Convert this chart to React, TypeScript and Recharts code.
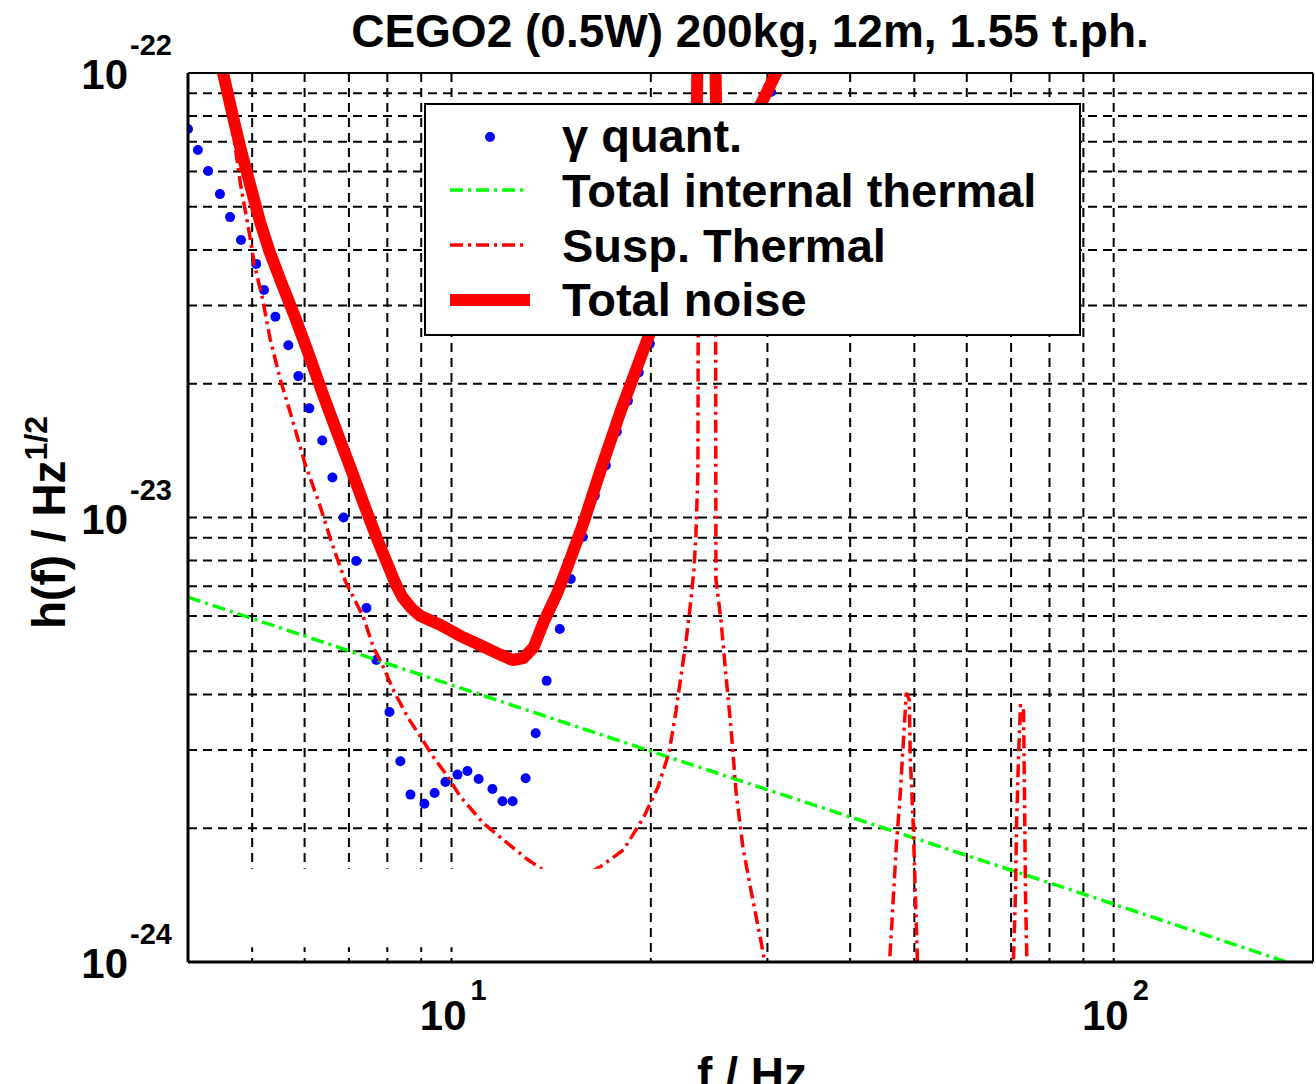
import {
  ComposedChart,
  Line,
  Scatter,
  XAxis,
  YAxis,
  CartesianGrid,
  ReferenceLine,
  ReferenceArea,
} from "recharts";

const FONT = '"Liberation Sans", Arial, Helvetica, sans-serif';

// values: [frequency in Hz, h(f) in 1/sqrt(Hz)]
const gammaQuant: [number, number][] = [
  [4.0, 7.48e-23], [4.14, 6.71e-23], [4.29, 6.02e-23], [4.47, 5.34e-23],
  [4.63, 4.74e-23], [4.81, 4.21e-23], [5.07, 3.72e-23], [5.21, 3.25e-23],
  [5.42, 2.83e-23], [5.67, 2.44e-23], [5.87, 2.08e-23], [6.1, 1.76e-23],
  [6.38, 1.49e-23], [6.61, 1.23e-23], [6.87, 1.0e-23], [7.18, 7.98e-24],
  [7.44, 6.26e-24], [7.7, 4.78e-24], [8.06, 3.65e-24], [8.37, 2.83e-24],
  [8.67, 2.38e-24], [9.1, 2.27e-24], [9.43, 2.4e-24], [9.79, 2.54e-24],
  [10.21, 2.64e-24], [10.57, 2.69e-24], [10.99, 2.58e-24], [11.53, 2.45e-24],
  [11.94, 2.3e-24], [12.37, 2.3e-24], [12.94, 2.59e-24], [13.4, 3.27e-24],
  [13.92, 4.29e-24], [14.57, 5.61e-24], [15.14, 7.27e-24], [15.79, 9.04e-24],
  [16.46, 1.12e-23], [17.1, 1.31e-23], [17.77, 1.56e-23], [18.47, 1.83e-23],
  [19.18, 2.12e-23], [19.93, 2.46e-23], [20.71, 2.8e-23], [21.52, 3.17e-23],
  [22.36, 3.59e-23], [23.23, 4.02e-23], [24.14, 4.5e-23], [25.08, 5.05e-23],
  [26.06, 5.66e-23], [27.08, 6.34e-23], [28.14, 7.14e-23], [29.24, 8.0e-23],
  [30.38, 9.06e-23],
];

const internalThermal: [number, number][] = [
  [4, 6.62e-24], [10, 4.2e-24], [20, 2.98e-24], [50, 1.9e-24], [100, 1.35e-24], [200, 9.55e-25],
];

const suspThermal: [number, number][] = [
  [4.54, 1.0e-22], [4.66, 7.68e-23], [4.8, 5.63e-23], [4.95, 4.37e-23], [5.04, 3.7e-23],
  [5.18, 3.12e-23], [5.32, 2.53e-23], [5.51, 2.05e-23], [5.75, 1.66e-23], [6.01, 1.32e-23],
  [6.32, 1.07e-23], [6.61, 8.67e-24], [6.91, 7.2e-24], [7.36, 5.97e-24], [7.62, 5.11e-24],
  [7.89, 4.61e-24], [8.17, 4.09e-24], [8.58, 3.56e-24], [8.98, 3.21e-24], [9.39, 2.89e-24],
  [9.86, 2.62e-24], [10.32, 2.35e-24], [11.18, 2.05e-24], [12.15, 1.85e-24], [13.03, 1.7e-24],
  [14.88, 1.49e-24], [16.8, 1.64e-24], [18.2, 1.79e-24], [19.52, 2.12e-24], [20.49, 2.47e-24],
  [21.3, 2.95e-24], [21.83, 3.67e-24], [22.2, 4.38e-24], [22.59, 5.22e-24], [22.99, 6.52e-24],
  [23.23, 7.62e-24], [23.39, 9.09e-24], [23.56, 1.27e-23], [23.64, 3.18e-22], [25.0, 3.18e-22],
  [25.08, 7.27e-24], [25.53, 5.85e-24], [25.98, 4.38e-24], [26.43, 3.36e-24], [26.9, 2.41e-24],
  [27.55, 1.81e-24], [28.33, 1.45e-24], [29.34, 1.11e-24], [29.96, 9.35e-25], [37.45, 4.89e-25],
  [45.5, 8.21e-25], [46.15, 1.16e-24], [46.96, 1.82e-24], [47.62, 2.4e-24], [48.12, 3.11e-24],
  [48.62, 4.03e-24], [49.13, 3.89e-24], [49.31, 2.86e-24], [49.82, 2.02e-24], [50.17, 1.43e-24],
  [50.7, 8.65e-25], [59.9, 4.89e-25], [70.35, 8.65e-25], [71.08, 1.43e-24], [71.33, 2.02e-24],
  [71.82, 2.86e-24], [72.32, 3.77e-24], [73.08, 3.77e-24], [73.33, 2.4e-24], [73.59, 1.43e-24],
  [74.1, 8.65e-25], [95.9, 4.89e-25], [200, 3.0e-25],
];

const totalNoise: [number, number][] = [
  [4.4, 1.19e-22], [4.66, 8.17e-23], [4.8, 6.78e-23], [4.97, 5.57e-23], [5.14, 4.62e-23],
  [5.32, 3.94e-23], [5.55, 3.34e-23], [5.81, 2.81e-23], [6.1, 2.31e-23], [6.38, 1.91e-23],
  [6.7, 1.57e-23], [7.03, 1.3e-23], [7.36, 1.08e-23], [7.7, 9.04e-24], [8.06, 7.66e-24],
  [8.25, 7.05e-24], [8.43, 6.62e-24], [8.7, 6.25e-24], [8.98, 6.0e-24], [9.63, 5.73e-24],
  [10.32, 5.41e-24], [11.06, 5.16e-24], [11.86, 4.91e-24], [12.37, 4.78e-24], [12.85, 4.83e-24],
  [13.31, 5.11e-24], [13.78, 5.82e-24], [14.47, 6.8e-24], [15.14, 8.11e-24], [15.84, 9.77e-24],
  [16.8, 1.28e-23], [18.02, 1.74e-23], [19.79, 2.53e-23], [22.2, 3.7e-23], [23.15, 4.19e-23],
  [23.48, 8.69e-23], [23.72, 3.18e-22], [24.83, 3.18e-22], [25.08, 8.69e-23], [25.43, 5.18e-23],
  [27.37, 6.89e-23], [29.34, 8.52e-23], [30.92, 1.0e-22], [32.6, 1.19e-22],
];

const X_TICKS = [4, 5, 6, 7, 8, 9, 10, 20, 30, 40, 50, 60, 70, 80, 90, 100, 200];
const Y_TICKS = [
  1e-24, 2e-24, 3e-24, 4e-24, 5e-24, 6e-24, 7e-24, 8e-24, 9e-24,
  1e-23, 2e-23, 3e-23, 4e-23, 5e-23, 6e-23, 7e-23, 8e-23, 9e-23, 1e-22,
];

const rows = (pts: [number, number][]) => pts.map(([f, h]) => ({ f, h }));

const decade = (v: number) => {
  const e = Math.log10(v);
  return Math.abs(e - Math.round(e)) < 1e-6 ? Math.round(e) : null;
};

function YTick(props: any) {
  const e = decade(props.payload.value);
  if (e === null) return <g />;
  const y = props.y;
  return (
    <g fontFamily={FONT}>
      <text x={128} y={y + 16} textAnchor="end" fontSize={42} fontWeight="bold" fill="#000">
        10
      </text>
      <text x={130} y={y - 18} fontSize={29} fontWeight="bold" fill="#000">
        {e}
      </text>
    </g>
  );
}

function XTick(props: any) {
  const e = decade(props.payload.value);
  if (e === null) return <g />;
  const x = props.x;
  return (
    <g fontFamily={FONT}>
      <text x={x + 15} y={1030} textAnchor="end" fontSize={42} fontWeight="bold" fill="#000">
        10
      </text>
      <text x={x + 19} y={1000} fontSize={29} fontWeight="bold" fill="#000">
        {e}
      </text>
    </g>
  );
}

const dot = (p: any) => <circle cx={p.cx} cy={p.cy} r={5} fill="#0000ff" />;

export default function App() {
  return (
    <div style={{ position: "absolute", left: 0, top: 0, width: 1316, height: 1084, background: "#fff" }}>
      <ComposedChart
        width={1316}
        height={1084}
        margin={{ top: 73, right: 3, bottom: 62, left: 128 }}
      >
        <CartesianGrid stroke="#000" strokeWidth={2} strokeDasharray="9 6" />
        <XAxis
          dataKey="f"
          type="number"
          scale="log"
          domain={[4, 200]}
          ticks={X_TICKS}
          interval={0}
          allowDataOverflow
          height={60}
          tickLine={false}
          axisLine={{ stroke: "#000", strokeWidth: 3 }}
          tick={<XTick />}
        />
        <YAxis
          dataKey="h"
          type="number"
          scale="log"
          domain={[1e-24, 1e-22]}
          ticks={Y_TICKS}
          interval={0}
          allowDataOverflow
          width={60}
          tickLine={false}
          axisLine={{ stroke: "#000", strokeWidth: 3 }}
          tick={<YTick />}
        />
        <Scatter
          data={rows(gammaQuant)}
          dataKey="h"
          shape={dot}
          isAnimationActive={false}
          zIndex={350}
        />
        <Line
          data={rows(internalThermal)}
          dataKey="h"
          stroke="#00ff00"
          strokeWidth={3.5}
          strokeDasharray="13 5 3 5"
          dot={false}
          activeDot={false}
          isAnimationActive={false}
          zIndex={400}
        />
        <Line
          data={rows(suspThermal)}
          dataKey="h"
          stroke="#ff0000"
          strokeWidth={3.5}
          strokeDasharray="13 5 3 5"
          dot={false}
          activeDot={false}
          isAnimationActive={false}
          zIndex={410}
        />
        <Line
          data={rows(totalNoise)}
          dataKey="h"
          stroke="#ff0000"
          strokeWidth={12}
          strokeLinejoin="round"
          dot={false}
          activeDot={false}
          isAnimationActive={false}
          zIndex={420}
        />
        {/* white patch that hides the lower left corner in the original */}
        <ReferenceArea
          x1={4}
          x2={19.66}
          y1={1.08e-24}
          y2={1.62e-24}
          fill="#fff"
          fillOpacity={1}
          stroke="none"
          zIndex={450}
        />
        <ReferenceLine y={1e-22} stroke="#000" strokeWidth={2} zIndex={460} />
        <ReferenceLine x={200} stroke="#000" strokeWidth={2} zIndex={460} />
      </ComposedChart>

      <svg
        width={1316}
        height={1084}
        style={{ position: "absolute", left: 0, top: 0, pointerEvents: "none" }}
        fontFamily={FONT}
      >
        <text x={750} y={47} textAnchor="middle" fontSize={46} fontWeight="bold" fill="#000">
          CEGO2 (0.5W) 200kg, 12m, 1.55 t.ph.
        </text>
        <text x={752} y={1090} textAnchor="middle" fontSize={46} fontWeight="bold" fill="#000">
          f / Hz
        </text>
        <text
          x={65}
          y={629}
          transform="rotate(-90 65 629)"
          fontSize={46}
          fontWeight="bold"
          fill="#000"
        >
          h(f) / Hz
          <tspan dy={-18} fontSize={32}>
            1/2
          </tspan>
        </text>

        <rect x={425} y={104} width={655} height={231} fill="#fff" stroke="#000" strokeWidth={2} />
        <circle cx={490} cy={137} r={5} fill="#0000ff" />
        <line x1={450} y1={190} x2={528} y2={190} stroke="#00ff00" strokeWidth={3.5} strokeDasharray="13 5 3 5" />
        <line x1={450} y1={245} x2={528} y2={245} stroke="#ff0000" strokeWidth={3.5} strokeDasharray="13 5 3 5" />
        <line x1={450} y1={300} x2={530} y2={300} stroke="#ff0000" strokeWidth={12} />
        <g fontSize={47} fontWeight="bold" fill="#000">
          <text x={562} y={152}>γ quant.</text>
          <text x={562} y={207}>Total internal thermal</text>
          <text x={562} y={262}>Susp. Thermal</text>
          <text x={562} y={316}>Total noise</text>
        </g>
      </svg>
    </div>
  );
}
